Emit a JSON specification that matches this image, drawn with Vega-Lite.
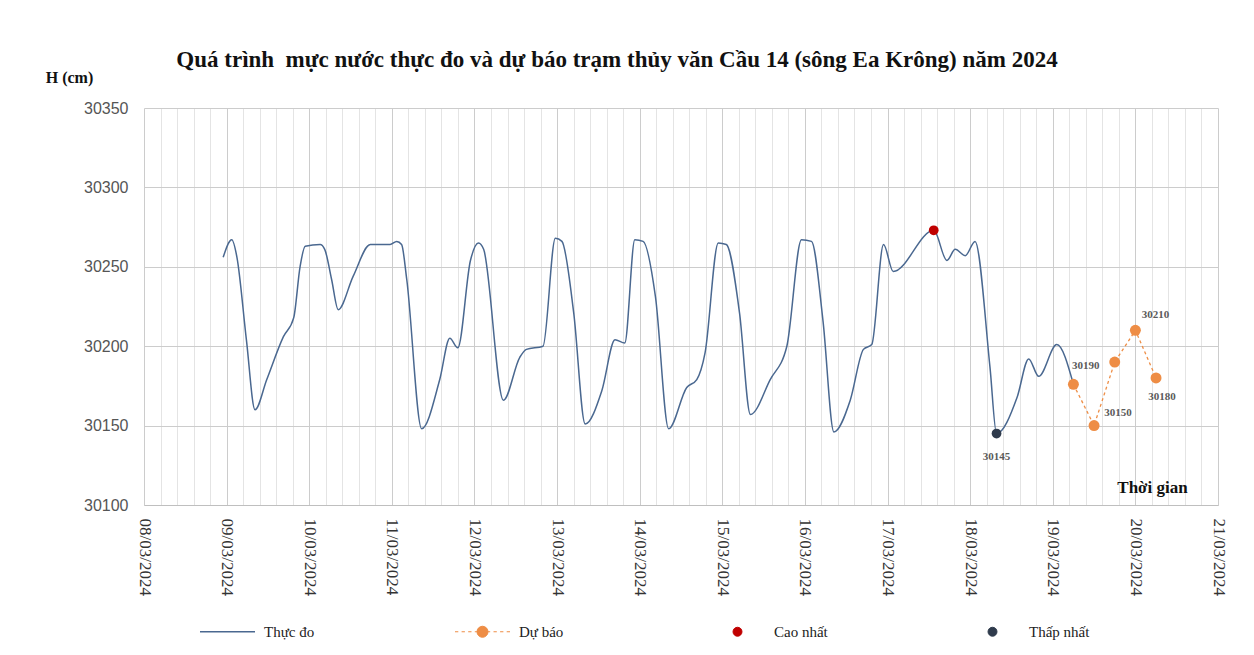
{
  "$schema": "https://vega.github.io/schema/vega-lite/v6.json",
  "autosize": {"type": "none"},
  "width": 1074,
  "height": 397,
  "padding": {"left": 144, "top": 108, "right": 36, "bottom": 150},
  "background": "white",
  "title": {
    "text": "Quá trình\u00a0 mực nước thực đo và dự báo trạm thủy văn Cầu 14 (sông Ea Krông) năm 2024",
    "font": "Liberation Serif",
    "fontSize": 23,
    "fontWeight": "bold",
    "color": "#111111",
    "anchor": "middle",
    "dx": -64,
    "offset": -3
  },
  "config": {
    "view": {"stroke": null},
    "axis": {"labelFont": "Liberation Sans", "titleFont": "Liberation Serif"}
  },
  "datasets": {
    "obs": [
      {"t": "2024-03-08T23:00", "h": 30256, "s": "Thực đo"},
      {"t": "2024-03-09T01:30", "h": 30267, "s": "Thực đo"},
      {"t": "2024-03-09T03:00", "h": 30256, "s": "Thực đo"},
      {"t": "2024-03-09T05:45", "h": 30204, "s": "Thực đo"},
      {"t": "2024-03-09T08:15", "h": 30160, "s": "Thực đo"},
      {"t": "2024-03-09T11:40", "h": 30179, "s": "Thực đo"},
      {"t": "2024-03-09T16:30", "h": 30206, "s": "Thực đo"},
      {"t": "2024-03-09T19:30", "h": 30218, "s": "Thực đo"},
      {"t": "2024-03-09T21:20", "h": 30250, "s": "Thực đo"},
      {"t": "2024-03-09T22:50", "h": 30263, "s": "Thực đo"},
      {"t": "2024-03-10T03:10", "h": 30264, "s": "Thực đo"},
      {"t": "2024-03-10T04:30", "h": 30261, "s": "Thực đo"},
      {"t": "2024-03-10T06:30", "h": 30242, "s": "Thực đo"},
      {"t": "2024-03-10T08:25", "h": 30223, "s": "Thực đo"},
      {"t": "2024-03-10T12:45", "h": 30244, "s": "Thực đo"},
      {"t": "2024-03-10T17:45", "h": 30264, "s": "Thực đo"},
      {"t": "2024-03-10T23:30", "h": 30264, "s": "Thực đo"},
      {"t": "2024-03-11T01:25", "h": 30266, "s": "Thực đo"},
      {"t": "2024-03-11T02:50", "h": 30264, "s": "Thực đo"},
      {"t": "2024-03-11T04:20", "h": 30242, "s": "Thực đo"},
      {"t": "2024-03-11T08:40", "h": 30148, "s": "Thực đo"},
      {"t": "2024-03-11T13:55", "h": 30179, "s": "Thực đo"},
      {"t": "2024-03-11T16:50", "h": 30205, "s": "Thực đo"},
      {"t": "2024-03-11T19:10", "h": 30199, "s": "Thực đo"},
      {"t": "2024-03-11T22:50", "h": 30254, "s": "Thực đo"},
      {"t": "2024-03-12T01:10", "h": 30265, "s": "Thực đo"},
      {"t": "2024-03-12T02:40", "h": 30261, "s": "Thực đo"},
      {"t": "2024-03-12T08:25", "h": 30166, "s": "Thực đo"},
      {"t": "2024-03-12T13:10", "h": 30193, "s": "Thực đo"},
      {"t": "2024-03-12T15:05", "h": 30198, "s": "Thực đo"},
      {"t": "2024-03-12T19:55", "h": 30200, "s": "Thực đo"},
      {"t": "2024-03-12T23:30", "h": 30268, "s": "Thực đo"},
      {"t": "2024-03-13T01:25", "h": 30266, "s": "Thực đo"},
      {"t": "2024-03-13T04:50", "h": 30221, "s": "Thực đo"},
      {"t": "2024-03-13T08:10", "h": 30151, "s": "Thực đo"},
      {"t": "2024-03-13T13:00", "h": 30172, "s": "Thực đo"},
      {"t": "2024-03-13T16:50", "h": 30204, "s": "Thực đo"},
      {"t": "2024-03-13T19:40", "h": 30202, "s": "Thực đo"},
      {"t": "2024-03-13T22:35", "h": 30267, "s": "Thực đo"},
      {"t": "2024-03-14T01:00", "h": 30266, "s": "Thực đo"},
      {"t": "2024-03-14T04:35", "h": 30231, "s": "Thực đo"},
      {"t": "2024-03-14T08:25", "h": 30148, "s": "Thực đo"},
      {"t": "2024-03-14T13:40", "h": 30174, "s": "Thực đo"},
      {"t": "2024-03-14T16:35", "h": 30179, "s": "Thực đo"},
      {"t": "2024-03-14T19:00", "h": 30196, "s": "Thực đo"},
      {"t": "2024-03-14T22:50", "h": 30265, "s": "Thực đo"},
      {"t": "2024-03-15T01:10", "h": 30264, "s": "Thực đo"},
      {"t": "2024-03-15T05:00", "h": 30221, "s": "Thực đo"},
      {"t": "2024-03-15T08:10", "h": 30157, "s": "Thực đo"},
      {"t": "2024-03-15T13:55", "h": 30179, "s": "Thực đo"},
      {"t": "2024-03-15T18:45", "h": 30200, "s": "Thực đo"},
      {"t": "2024-03-15T23:00", "h": 30267, "s": "Thực đo"},
      {"t": "2024-03-16T01:55", "h": 30266, "s": "Thực đo"},
      {"t": "2024-03-16T05:15", "h": 30216, "s": "Thực đo"},
      {"t": "2024-03-16T08:25", "h": 30146, "s": "Thực đo"},
      {"t": "2024-03-16T13:10", "h": 30166, "s": "Thực đo"},
      {"t": "2024-03-16T17:00", "h": 30198, "s": "Thực đo"},
      {"t": "2024-03-16T19:25", "h": 30201, "s": "Thực đo"},
      {"t": "2024-03-16T22:50", "h": 30264, "s": "Thực đo"},
      {"t": "2024-03-17T01:40", "h": 30247, "s": "Thực đo"},
      {"t": "2024-03-17T13:25", "h": 30273, "s": "Thực đo"},
      {"t": "2024-03-17T17:15", "h": 30254, "s": "Thực đo"},
      {"t": "2024-03-17T19:40", "h": 30261, "s": "Thực đo"},
      {"t": "2024-03-17T22:35", "h": 30257, "s": "Thực đo"},
      {"t": "2024-03-18T01:25", "h": 30266, "s": "Thực đo"},
      {"t": "2024-03-18T05:45", "h": 30187, "s": "Thực đo"},
      {"t": "2024-03-18T07:40", "h": 30145, "s": "Thực đo"},
      {"t": "2024-03-18T13:40", "h": 30168, "s": "Thực đo"},
      {"t": "2024-03-18T17:00", "h": 30192, "s": "Thực đo"},
      {"t": "2024-03-18T19:55", "h": 30181, "s": "Thực đo"},
      {"t": "2024-03-19T01:10", "h": 30201, "s": "Thực đo"},
      {"t": "2024-03-19T06:00", "h": 30176, "s": "Thực đo"}
    ],
    "fc": [
      {"t": "2024-03-19T06:00", "h": 30176, "s": "Dự báo"},
      {"t": "2024-03-19T12:00", "h": 30150, "s": "Dự báo"},
      {"t": "2024-03-19T18:00", "h": 30190, "s": "Dự báo"},
      {"t": "2024-03-20T00:00", "h": 30210, "s": "Dự báo"},
      {"t": "2024-03-20T06:00", "h": 30180, "s": "Dự báo"}
    ],
    "ext": [
      {"t": "2024-03-17T13:25", "h": 30273, "s": "Cao nhất"},
      {"t": "2024-03-18T07:40", "h": 30145, "s": "Thấp nhất"}
    ]
  },
  "encoding": {
    "x": {
      "field": "t",
      "type": "temporal",
      "scale": {"domain": [{"year": 2024, "month": 3, "date": 8, "hours": 0}, {"year": 2024, "month": 3, "date": 21, "hours": 0}], "nice": false},
      "axis": {
        "title": "Thời gian",
        "titleFont": "Liberation Serif",
        "titleFontSize": 17,
        "titleFontWeight": "bold",
        "titleColor": "#111111",
        "titleX": 1008,
        "titleY": -18,
        "titleAlign": "center",
        "titleBaseline": "middle",
        "titleAngle": 0,
        "labelAngle": 90,
        "labelAlign": "left",
        "labelBaseline": "middle",
        "labelFont": "Liberation Serif",
        "labelFontSize": 17,
        "labelColor": "#333333",
        "labelPadding": 13,
        "labelOverlap": false,
        "labelFlush": false,
        "labelExpr": "hours(datum.value) == 0 && minutes(datum.value) == 0 ? timeFormat(datum.value, '%d/%m/%Y') : ''",
        "ticks": false,
        "domain": true,
        "domainColor": "#bfbfbf",
        "grid": true,
        "gridColor": {"condition": {"test": "hours(datum.value) == 0 && minutes(datum.value) == 0", "value": "#cccccc"}, "value": "#e4e4e4"},
        "values": [
          {"year": 2024, "month": 3, "date": 8, "hours": 0, "minutes": 0},
          {"year": 2024, "month": 3, "date": 8, "hours": 4, "minutes": 48},
          {"year": 2024, "month": 3, "date": 8, "hours": 9, "minutes": 36},
          {"year": 2024, "month": 3, "date": 8, "hours": 14, "minutes": 24},
          {"year": 2024, "month": 3, "date": 8, "hours": 19, "minutes": 12},
          {"year": 2024, "month": 3, "date": 9, "hours": 0, "minutes": 0},
          {"year": 2024, "month": 3, "date": 9, "hours": 4, "minutes": 48},
          {"year": 2024, "month": 3, "date": 9, "hours": 9, "minutes": 36},
          {"year": 2024, "month": 3, "date": 9, "hours": 14, "minutes": 24},
          {"year": 2024, "month": 3, "date": 9, "hours": 19, "minutes": 12},
          {"year": 2024, "month": 3, "date": 10, "hours": 0, "minutes": 0},
          {"year": 2024, "month": 3, "date": 10, "hours": 4, "minutes": 48},
          {"year": 2024, "month": 3, "date": 10, "hours": 9, "minutes": 36},
          {"year": 2024, "month": 3, "date": 10, "hours": 14, "minutes": 24},
          {"year": 2024, "month": 3, "date": 10, "hours": 19, "minutes": 12},
          {"year": 2024, "month": 3, "date": 11, "hours": 0, "minutes": 0},
          {"year": 2024, "month": 3, "date": 11, "hours": 4, "minutes": 48},
          {"year": 2024, "month": 3, "date": 11, "hours": 9, "minutes": 36},
          {"year": 2024, "month": 3, "date": 11, "hours": 14, "minutes": 24},
          {"year": 2024, "month": 3, "date": 11, "hours": 19, "minutes": 12},
          {"year": 2024, "month": 3, "date": 12, "hours": 0, "minutes": 0},
          {"year": 2024, "month": 3, "date": 12, "hours": 4, "minutes": 48},
          {"year": 2024, "month": 3, "date": 12, "hours": 9, "minutes": 36},
          {"year": 2024, "month": 3, "date": 12, "hours": 14, "minutes": 24},
          {"year": 2024, "month": 3, "date": 12, "hours": 19, "minutes": 12},
          {"year": 2024, "month": 3, "date": 13, "hours": 0, "minutes": 0},
          {"year": 2024, "month": 3, "date": 13, "hours": 4, "minutes": 48},
          {"year": 2024, "month": 3, "date": 13, "hours": 9, "minutes": 36},
          {"year": 2024, "month": 3, "date": 13, "hours": 14, "minutes": 24},
          {"year": 2024, "month": 3, "date": 13, "hours": 19, "minutes": 12},
          {"year": 2024, "month": 3, "date": 14, "hours": 0, "minutes": 0},
          {"year": 2024, "month": 3, "date": 14, "hours": 4, "minutes": 48},
          {"year": 2024, "month": 3, "date": 14, "hours": 9, "minutes": 36},
          {"year": 2024, "month": 3, "date": 14, "hours": 14, "minutes": 24},
          {"year": 2024, "month": 3, "date": 14, "hours": 19, "minutes": 12},
          {"year": 2024, "month": 3, "date": 15, "hours": 0, "minutes": 0},
          {"year": 2024, "month": 3, "date": 15, "hours": 4, "minutes": 48},
          {"year": 2024, "month": 3, "date": 15, "hours": 9, "minutes": 36},
          {"year": 2024, "month": 3, "date": 15, "hours": 14, "minutes": 24},
          {"year": 2024, "month": 3, "date": 15, "hours": 19, "minutes": 12},
          {"year": 2024, "month": 3, "date": 16, "hours": 0, "minutes": 0},
          {"year": 2024, "month": 3, "date": 16, "hours": 4, "minutes": 48},
          {"year": 2024, "month": 3, "date": 16, "hours": 9, "minutes": 36},
          {"year": 2024, "month": 3, "date": 16, "hours": 14, "minutes": 24},
          {"year": 2024, "month": 3, "date": 16, "hours": 19, "minutes": 12},
          {"year": 2024, "month": 3, "date": 17, "hours": 0, "minutes": 0},
          {"year": 2024, "month": 3, "date": 17, "hours": 4, "minutes": 48},
          {"year": 2024, "month": 3, "date": 17, "hours": 9, "minutes": 36},
          {"year": 2024, "month": 3, "date": 17, "hours": 14, "minutes": 24},
          {"year": 2024, "month": 3, "date": 17, "hours": 19, "minutes": 12},
          {"year": 2024, "month": 3, "date": 18, "hours": 0, "minutes": 0},
          {"year": 2024, "month": 3, "date": 18, "hours": 4, "minutes": 48},
          {"year": 2024, "month": 3, "date": 18, "hours": 9, "minutes": 36},
          {"year": 2024, "month": 3, "date": 18, "hours": 14, "minutes": 24},
          {"year": 2024, "month": 3, "date": 18, "hours": 19, "minutes": 12},
          {"year": 2024, "month": 3, "date": 19, "hours": 0, "minutes": 0},
          {"year": 2024, "month": 3, "date": 19, "hours": 4, "minutes": 48},
          {"year": 2024, "month": 3, "date": 19, "hours": 9, "minutes": 36},
          {"year": 2024, "month": 3, "date": 19, "hours": 14, "minutes": 24},
          {"year": 2024, "month": 3, "date": 19, "hours": 19, "minutes": 12},
          {"year": 2024, "month": 3, "date": 20, "hours": 0, "minutes": 0},
          {"year": 2024, "month": 3, "date": 20, "hours": 4, "minutes": 48},
          {"year": 2024, "month": 3, "date": 20, "hours": 9, "minutes": 36},
          {"year": 2024, "month": 3, "date": 20, "hours": 14, "minutes": 24},
          {"year": 2024, "month": 3, "date": 20, "hours": 19, "minutes": 12},
          {"year": 2024, "month": 3, "date": 21, "hours": 0, "minutes": 0}
        ]
      }
    },
    "y": {
      "field": "h",
      "type": "quantitative",
      "scale": {"domain": [30100, 30350], "nice": false, "zero": false},
      "axis": {
        "title": "H (cm)",
        "titleFont": "Liberation Serif",
        "titleFontSize": 16,
        "titleFontWeight": "bold",
        "titleColor": "#111111",
        "titleAngle": 0,
        "titleX": -75,
        "titleY": -31,
        "titleAlign": "center",
        "titleBaseline": "middle",
        "values": [30100, 30150, 30200, 30250, 30300, 30350],
        "format": "d",
        "labelFont": "Liberation Sans",
        "labelFontSize": 16,
        "labelColor": "#555555",
        "labelPadding": 16,
        "ticks": false,
        "domain": false,
        "grid": true,
        "gridColor": "#cccccc"
      }
    },
    "color": {
      "field": "s",
      "type": "nominal",
      "scale": {
        "domain": ["Thực đo", "Dự báo", "Cao nhất", "Thấp nhất"],
        "range": ["#4a6890", "#ee8d45", "#c00000", "#2f3b4c"]
      },
      "legend": {
        "title": null,
        "orient": "none",
        "legendX": 56,
        "legendY": 516,
        "direction": "horizontal",
        "columns": 4,
        "gridAlign": "all",
        "columnPadding": 128,
        "padding": 0,
        "labelFont": "Liberation Serif",
        "labelFontSize": 15,
        "labelColor": "#222222",
        "encode": {
          "symbols": {
            "update": {
              "x": {"value": 27.5},
              "shape": {"signal": "datum.value === 'Thực đo' ? 'stroke' : datum.value === 'Dự báo' ? 'M-1,0H-0.88M-0.76,0H-0.64M-0.52,0H-0.4M-0.28,0H-0.18M0.18,0H0.28M0.4,0H0.52M0.64,0H0.76M0.88,0H1M0.2,0A0.2,0.2 0 1,1 -0.2,0A0.2,0.2 0 1,1 0.2,0Z' : 'circle'"},
              "size": {"signal": "datum.value === 'Thực đo' || datum.value === 'Dự báo' ? 3025 : 80"},
              "stroke": {"signal": "datum.value === 'Thực đo' ? '#4a6890' : datum.value === 'Dự báo' ? '#ee8d45' : datum.value === 'Cao nhất' ? '#c00000' : '#2f3b4c'"},
              "fill": {"signal": "datum.value === 'Thực đo' ? 'transparent' : datum.value === 'Dự báo' ? '#ee8d45' : datum.value === 'Cao nhất' ? '#c00000' : '#2f3b4c'"},
              "strokeWidth": {"signal": "datum.value === 'Thực đo' ? 1.5 : 1"},
              "opacity": {"value": 1}
            }
          },
          "labels": {
            "update": {
              "x": {"value": 64}
            }
          }
        }
      }
    }
  },
  "layer": [
    {
      "data": {"name": "obs"},
      "mark": {"type": "line", "interpolate": "monotone", "strokeWidth": 1.5}
    },
    {
      "data": {"name": "fc"},
      "mark": {"type": "line", "strokeDash": [3, 3], "strokeWidth": 1.3}
    },
    {
      "data": {"name": "fc"},
      "mark": {"type": "point", "filled": true, "size": 120, "opacity": 1}
    },
    {
      "data": {"name": "ext"},
      "mark": {"type": "point", "filled": true, "size": 95, "opacity": 1}
    },
    {
      "data": {"name": "fc"},
      "transform": [{"filter": "datum.h == 30190"}],
      "mark": {"type": "text", "font": "Liberation Serif", "fontWeight": "bold", "fontSize": 11, "align": "center", "baseline": "middle", "dx": -29, "dy": 4},
      "encoding": {"text": {"field": "h", "type": "quantitative", "format": "d"}, "color": {"value": "#5a5a5a"}}
    },
    {
      "data": {"name": "fc"},
      "transform": [{"filter": "datum.h == 30150"}],
      "mark": {"type": "text", "font": "Liberation Serif", "fontWeight": "bold", "fontSize": 11, "align": "center", "baseline": "middle", "dx": 24, "dy": -13},
      "encoding": {"text": {"field": "h", "type": "quantitative", "format": "d"}, "color": {"value": "#5a5a5a"}}
    },
    {
      "data": {"name": "fc"},
      "transform": [{"filter": "datum.h == 30210"}],
      "mark": {"type": "text", "font": "Liberation Serif", "fontWeight": "bold", "fontSize": 11, "align": "center", "baseline": "middle", "dx": 20, "dy": -15},
      "encoding": {"text": {"field": "h", "type": "quantitative", "format": "d"}, "color": {"value": "#5a5a5a"}}
    },
    {
      "data": {"name": "fc"},
      "transform": [{"filter": "datum.h == 30180"}],
      "mark": {"type": "text", "font": "Liberation Serif", "fontWeight": "bold", "fontSize": 11, "align": "center", "baseline": "middle", "dx": 6, "dy": 19},
      "encoding": {"text": {"field": "h", "type": "quantitative", "format": "d"}, "color": {"value": "#5a5a5a"}}
    },
    {
      "data": {"name": "ext"},
      "transform": [{"filter": "datum.h == 30145"}],
      "mark": {"type": "text", "font": "Liberation Serif", "fontWeight": "bold", "fontSize": 11, "align": "center", "baseline": "middle", "dx": 0, "dy": 23},
      "encoding": {"text": {"field": "h", "type": "quantitative", "format": "d"}, "color": {"value": "#5a5a5a"}}
    }
  ]
}
